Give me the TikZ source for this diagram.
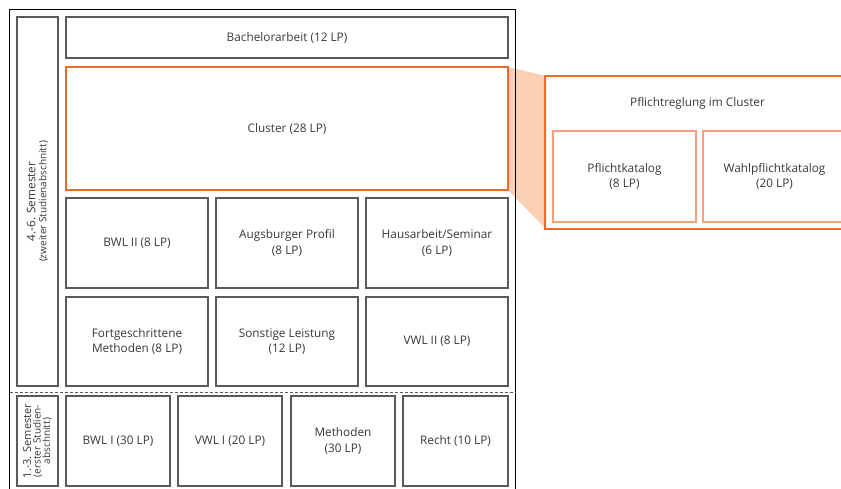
\documentclass[tikz,border=0pt]{standalone}
\usepackage{fontspec}
\setmainfont{Open Sans}
\definecolor{txt}{HTML}{383838}
\definecolor{boxline}{HTML}{5A5A5A}
\definecolor{orng}{HTML}{EE6A2C}
\definecolor{lorng}{HTML}{F3A27A}
\definecolor{peach}{HTML}{F9D0B3}
\tikzset{
  base/.style={rectangle, inner sep=0pt, align=center, text=txt, font=\fontsize{11.8}{15.5}\selectfont},
  gbox/.style={base, draw=boxline, line width=1.2pt},
  obox/.style={base, draw=orng, line width=1.2pt},
  lbox/.style={base, draw=lorng, line width=1.6pt},
}
\begin{document}
\begin{tikzpicture}[x=1pt,y=-1pt]
\useasboundingbox (0,0) rectangle (841,488);
\clip (0,0) rectangle (841,488);
% zoom wedge
\fill[peach] (508,67) -- (546,76) -- (546,229) -- (508,190) -- cycle;
% outer frame
\draw[black, line width=0.8pt] (9.5,500) -- (9.5,9.5) -- (515.5,9.5) -- (515.5,500);
\draw[boxline, line width=1pt, dash pattern=on 3pt off 2pt] (9.5,392) -- (515.5,392);
% left labels
\node[gbox, minimum width=41pt, minimum height=369pt] (sem2) at (37.5,201.5) {};
\node[base, rotate=90, font=\fontsize{11.8}{11}\selectfont] (sem2t) at (sem2.center) {4.-6. Semester\\{\fontsize{10}{10}\selectfont (zweiter Studienabschnitt)}};
\node[gbox, minimum width=41pt, minimum height=90pt] (sem1) at (37.5,441) {};
\node[base, rotate=90, font=\fontsize{10}{9.5}\selectfont] (sem1t) at (sem1.center) {{\fontsize{11}{9.5}\selectfont 1.-3. Semester}\\(erster Studien-\\abschnitt)};
% main boxes
\node[gbox, minimum width=442pt, minimum height=41pt] (bach) at (287,37.5) {Bachelorarbeit (12 LP)};
\node[obox, minimum width=442pt, minimum height=123pt] (cluster) at (287,128.5) {Cluster (28 LP)};
\node[gbox, minimum width=142pt, minimum height=90pt] (bwl2) at (137,243) {BWL II (8 LP)};
\node[gbox, minimum width=142pt, minimum height=90pt] (augs) at (287,243) {Augsburger Profil\\(8 LP)};
\node[gbox, minimum width=142pt, minimum height=90pt] (haus) at (437,243) {Hausarbeit/Seminar\\(6 LP)};
\node[gbox, minimum width=142pt, minimum height=89pt] (fort) at (137,341.5) {Fortgeschrittene\\Methoden (8 LP)};
\node[gbox, minimum width=142pt, minimum height=89pt] (sonst) at (287,341.5) {Sonstige Leistung\\(12 LP)};
\node[gbox, minimum width=142pt, minimum height=89pt] (vwl2) at (437,341.5) {VWL II (8 LP)};
\node[gbox, minimum width=104pt, minimum height=90pt] (bwl1) at (118,441) {BWL I (30 LP)};
\node[gbox, minimum width=104pt, minimum height=90pt] (vwl1) at (230,441) {VWL I (20 LP)};
\node[gbox, minimum width=104pt, minimum height=90pt] (meth) at (343,441) {Methoden\\(30 LP)};
\node[gbox, minimum width=105pt, minimum height=90pt] (recht) at (455.5,441) {Recht (10 LP)};
% detail
\node[obox, minimum width=305pt, minimum height=153pt] (detail) at (697.5,152.5) {};
\node[base] (detailt) at (697.5,103) {Pflichtreglung im Cluster};
\node[lbox, minimum width=143pt, minimum height=91pt] (pflicht) at (624.5,176.5) {Pflichtkatalog\\(8 LP)};
\node[lbox, minimum width=143pt, minimum height=91pt] (wahl) at (774.5,176.5) {Wahlpflichtkatalog\\(20 LP)};
\end{tikzpicture}
\end{document}
